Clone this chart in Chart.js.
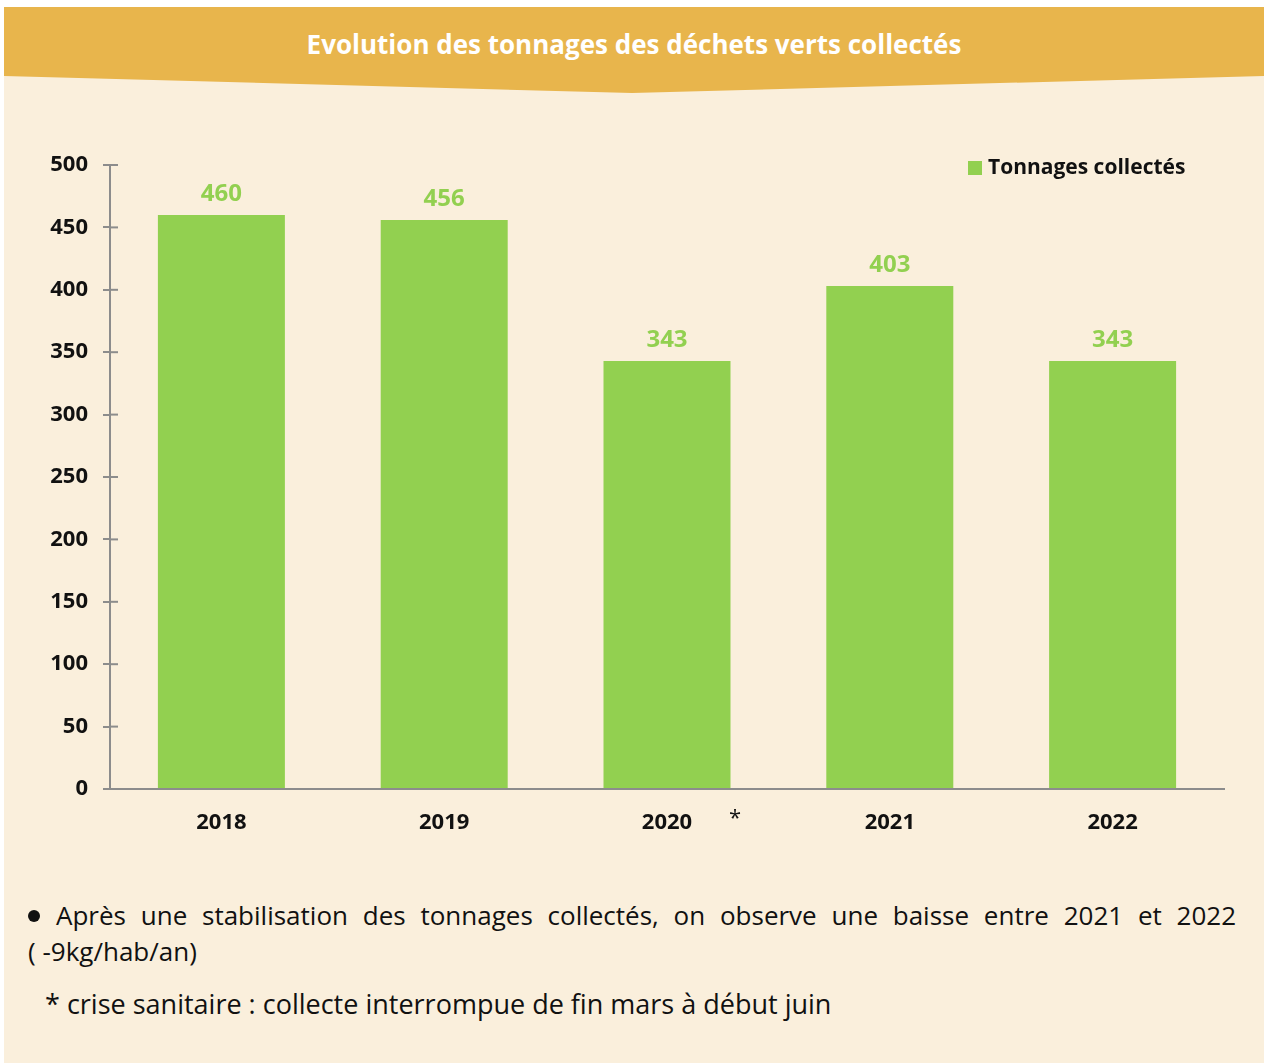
<!DOCTYPE html>
<html lang="fr">
<head>
<meta charset="utf-8">
<title>Evolution des tonnages des déchets verts collectés</title>
<script src="https://cdn.jsdelivr.net/npm/chart.js@4/dist/chart.umd.min.js"></script>
<style>
  html, body { margin: 0; padding: 0; background: #fff; }
  body { width: 1264px; height: 1063px; position: relative; overflow: hidden; font-family: "Open Sans", sans-serif; }
  #panel { position: absolute; left: 4px; top: 7px; width: 1260px; height: 1056px; background: #FAEFDC; }
  #band {
    position: absolute; left: 4px; top: 7px; width: 1260px; height: 86px; background: #E8B54C;
    clip-path: polygon(0 0, 100% 0, 100% 69px, 628px 86px, 0 69px);
  }
  #title { position: absolute; left: 4px; top: 25px; width: 1260px; line-height: 38px; text-align: center;
    color: #fff; font-weight: 700; font-size: 26px; letter-spacing: 0; }
  #chartBox { position: absolute; left: 4px; top: 130px; width: 1260px; height: 720px; }
  #legend { position: absolute; left: 968px; top: 152px; height: 28px; line-height: 28px; font-weight: 700; font-size: 21px; color: #111; }
  #legend span.box { display: inline-block; width: 14px; height: 14px; background: #92D050; vertical-align: -1px; margin-right: 6px; }
  #comment { position: absolute; left: 28px; top: 897px; width: 1208px; font-size: 26px; line-height: 36px; color: #111; }
  #comment .l1 { text-align: justify; text-align-last: justify; }
  #comment .dot { display: inline-block; width: 12px; height: 12px; border-radius: 50%; background: #111;
    vertical-align: 3px; margin-right: 16px; }
  #note { position: absolute; left: 45px; top: 985px; font-size: 27px; line-height: 38px; color: #111; }
</style>
</head>
<body>
<div id="panel"></div>
<div id="band"></div>
<div id="title">Evolution des tonnages des déchets verts collectés</div>
<div id="chartBox"><canvas id="wasteChart"></canvas></div>
<div id="legend"><span class="box"></span>Tonnages collectés</div>
<div id="comment">
  <div class="l1"><span class="dot"></span>Après une stabilisation des tonnages collectés, on observe une baisse entre 2021 et 2022</div>
  <div>( -9kg/hab/an)</div>
</div>
<div id="note">* crise sanitaire : collecte interrompue de fin mars à début juin</div>

<script>
// Data
const years = ['2018', '2019', '2020', '2021', '2022'];
const tonnages = [460, 456, 343, 403, 343];
const yTicks = [0, 50, 100, 150, 200, 250, 300, 350, 400, 450, 500];

const green = '#92D050';
const axisGray = '#8C8C8C';
const fontName = '"Open Sans", sans-serif';

Chart.defaults.font.family = fontName;

// Values above the bars + the little "*" after 2020 + inner half of the y ticks
const extrasPlugin = {
    id: 'extras',
    afterDatasetsDraw(chart) {
        const ctx = chart.ctx;
        const meta = chart.getDatasetMeta(0);
        ctx.save();
        ctx.fillStyle = green;
        ctx.font = 'bold 24px ' + fontName;
        ctx.textAlign = 'center';
        ctx.textBaseline = 'middle';
        meta.data.forEach((bar, i) => {
            ctx.fillText(tonnages[i], bar.x, bar.y - 21);
        });

        // footnote star next to 2020 (canvas coords)
        const xs = chart.scales.x;
        ctx.fillStyle = '#111';
        ctx.font = '22px ' + fontName;
        ctx.fillText('*', xs.getPixelForValue(2) + 68, xs.top + 30);

        // tick marks cross the axis line
        const ys = chart.scales.y;
        ctx.strokeStyle = axisGray;
        ctx.lineWidth = 2;
        yTicks.forEach(v => {
            const y = ys.getPixelForValue(v);
            ctx.beginPath();
            ctx.moveTo(chart.chartArea.left, y);
            ctx.lineTo(chart.chartArea.left + 8, y);
            ctx.stroke();
        });
        ctx.restore();
    }
};

new Chart(document.getElementById('wasteChart'), {
    type: 'bar',
    data: {
        labels: years,
        datasets: [{
            label: 'Tonnages collectés',
            data: tonnages,
            backgroundColor: green,
            borderWidth: 0,
            categoryPercentage: 1,
            barPercentage: 0.57
        }]
    },
    options: {
        responsive: true,
        maintainAspectRatio: false,
        animation: false,
        layout: { padding: { top: 35, right: 40, bottom: 0, left: 0 } },
        plugins: {
            legend: { display: false },
            tooltip: { enabled: false }
        },
        scales: {
            x: {
                grid: { display: false, drawTicks: false },
                border: { display: true, color: axisGray, width: 2 },
                ticks: {
                    color: '#111',
                    padding: 21,
                    font: { size: 22, weight: 'bold' }
                },
                afterFit(scale) { scale.height = 61; }
            },
            y: {
                min: 0,
                max: 500,
                grid: { drawOnChartArea: false, color: axisGray, lineWidth: 2, tickLength: 7 },
                border: { display: true, color: axisGray, width: 2 },
                ticks: {
                    stepSize: 50,
                    color: '#111',
                    padding: 15,
                    font: { size: 22, weight: 'bold' }
                },
                afterFit(scale) { scale.width = 106; }
            }
        }
    },
    plugins: [extrasPlugin]
});
</script>
</body>
</html>
